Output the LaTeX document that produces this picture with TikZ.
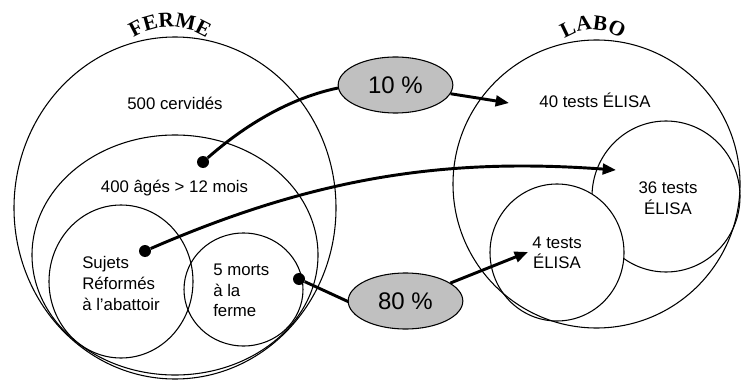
\documentclass[tikz,border=0pt]{standalone}
\usepackage{fontspec}
\setmainfont{Liberation Sans}
\newfontfamily\titlefont{Liberation Serif}
\usetikzlibrary{shapes.geometric}
\usetikzlibrary{arrows.meta}
\usetikzlibrary{decorations.text}
\definecolor{pctgray}{RGB}{192,192,192}
\newcommand{\titrefont}{\titlefont\bfseries\fontsize{16}{16}\selectfont}

\begin{document}
\begin{tikzpicture}[x=0.75pt,y=-0.75pt,
  zone/.style={draw,ellipse,line width=0.8pt,inner sep=0pt,outer sep=0pt},
  pct/.style={draw,ellipse,fill=pctgray,line width=0.8pt,inner sep=0pt,
    minimum width=86pt,minimum height=42pt,font=\fontsize{18}{20}\selectfont},
  lbl/.style={font=\fontsize{12.6}{15.4}\selectfont,inner sep=0pt},
  dot/.style={circle,fill=black,inner sep=0pt,minimum size=9pt},
  link/.style={line width=2.2pt},
  flow/.style={line width=2.2pt,-{Triangle[length=10pt,width=8pt]}}]
\useasboundingbox (0,0) rectangle (745,381);
% ferme
\node[zone,minimum width=241.5pt,minimum height=256.5pt] (ferme) at (175,208) {};
\node[zone,minimum width=214.5pt,minimum height=180pt] (ages) at (175,255) {};
\node[zone,minimum width=108pt,minimum height=114.75pt] (sujets) at (121,281.5) {};
\node[zone,minimum width=89.25pt,minimum height=84.75pt] (morts) at (243.5,289.5) {};
\path[decorate,decoration={text along path,text align=center,text={|\titrefont|FERME}}]
  (112,61) .. controls (137.8,16) and (202.2,16) .. (228,61);
\node[lbl] (cerv) at (175,103) {500 cervidés};
\node[lbl] (agestxt) at (174.5,188) {400 âgés > 12 mois};
\node[lbl,align=left,anchor=west] (sujetstxt) at (82,283.5) {Sujets\\Réformés\\à l’abattoir};
\node[lbl,align=left,anchor=west] (mortstxt) at (213,290.5) {5 morts\\à la\\ferme};
% labo
\node[zone,fill=white,minimum width=111pt,minimum height=113.25pt] (tests36) at (666,196.5) {};
\node[zone,fill=white,minimum width=100.5pt,minimum height=102.75pt] (tests4) at (557,252.5) {};
\node[zone,minimum width=215.25pt,minimum height=216pt] (labo) at (596.5,184) {};
\path[decorate,decoration={text along path,text align=center,text={|\titrefont|LABO}}]
  (546,60) .. controls (566,20) and (620,20) .. (640,60);
\node[lbl] (t40) at (595,100) {40 tests ÉLISA};
\node[lbl,align=center] (t36) at (668,198) {36 tests\\ÉLISA};
\node[lbl,align=center] (t4) at (557,253) {4 tests\\ÉLISA};
% fleches
\node[dot] (dotA) at (203,162) {};
\node[dot] (dotB) at (145,251) {};
\node[dot] (dotC) at (299,279) {};
\coordinate (tipA) at (509,103);
\coordinate (tipB) at (616,170);
\coordinate (tipC) at (528,252);
\draw[link] (dotA) .. controls (245,125) and (290,98) .. (338,88);
\draw[flow] (dotB) .. controls (320,175) and (450,158) .. (tipB);
\draw[link] (dotC) -- (349,302);
\node[pct] (pctA) at (395.5,85) {10 \%};
\node[pct] (pctB) at (405.5,301) {80 \%};
\draw[flow] (pctA) -- (tipA);
\draw[flow] (pctB) -- (tipC);
\end{tikzpicture}
\end{document}
